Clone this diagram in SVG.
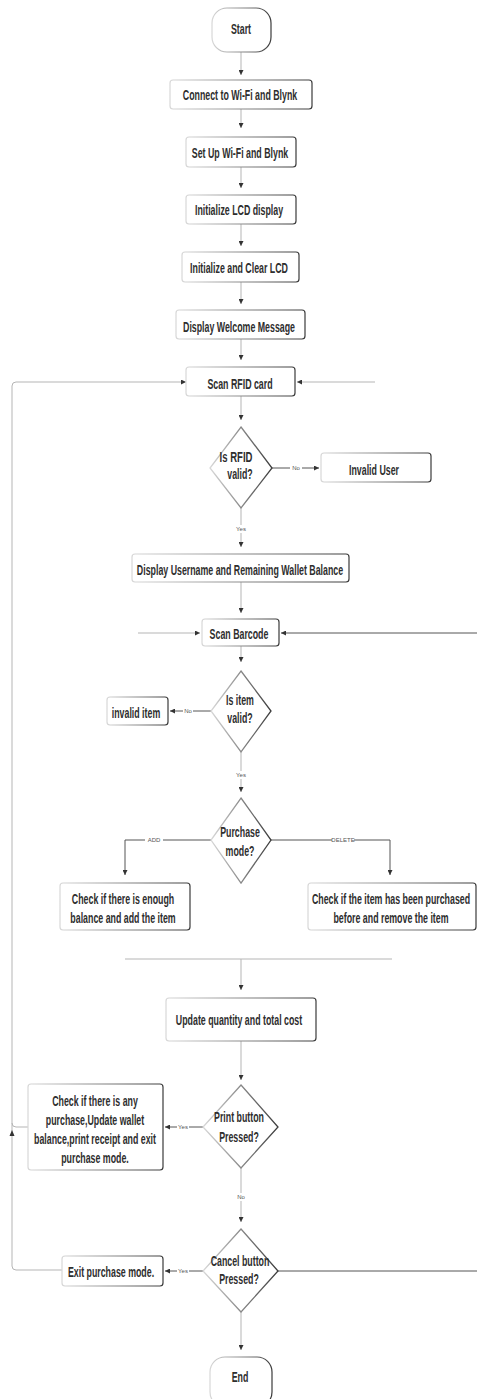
<svg xmlns="http://www.w3.org/2000/svg" width="477" height="1399" viewBox="0 0 477 1399">
<defs>
<linearGradient id="edge" x1="0" y1="0" x2="1" y2="0">
<stop offset="0" stop-color="#d8d8d8"/><stop offset="0.5" stop-color="#8a8a8a"/><stop offset="1" stop-color="#3a3a3a"/>
</linearGradient>
<marker id="ah" viewBox="0 0 6 6" refX="6" refY="3" markerWidth="5" markerHeight="5" markerUnits="userSpaceOnUse" orient="auto">
<path d="M0,0 L6,3 L0,6 z" fill="#333"/>
</marker>
<style>
.box{fill:#fff;stroke:url(#edge);stroke-width:1.2}
.dia{fill:#fff;stroke:url(#edge);stroke-width:1.3}
.t{font-family:"Liberation Sans",Arial,sans-serif;font-weight:bold;font-size:14px;fill:#2e2e2e;text-anchor:middle}
.lbl{font-family:"Liberation Sans",sans-serif;font-size:6px;fill:#555;text-anchor:middle}
.c{fill:none;stroke:#b5b5b5;stroke-width:1}
.cd{fill:none;stroke:#555;stroke-width:1}
</style>
</defs>
<rect width="477" height="1399" fill="#fff"/>
<g id="connectors">
<path class="c" d="M241,52 V75" marker-end="url(#ah)"/>
<path class="c" d="M241,109 V128" marker-end="url(#ah)"/>
<path class="c" d="M241,167 V188" marker-end="url(#ah)"/>
<path class="c" d="M241,224 V246" marker-end="url(#ah)"/>
<path class="c" d="M241,282 V304" marker-end="url(#ah)"/>
<path class="c" d="M241,339 V360" marker-end="url(#ah)"/>
<path class="c" d="M241,396 V420" marker-end="url(#ah)"/>
<path class="cd" d="M272,468 H290"/>
<path class="cd" d="M302,468 H319" marker-end="url(#ah)"/>
<text class="lbl" x="296" y="470">No</text>
<path class="c" d="M241,508 V525"/>
<path class="c" d="M241,533 V547" marker-end="url(#ah)"/>
<text class="lbl" x="241" y="531">Yes</text>
<path class="c" d="M241,582 V613" marker-end="url(#ah)"/>
<path class="c" d="M138,633 H200" marker-end="url(#ah)"/>
<path class="cd" d="M477,633 H281" marker-end="url(#ah)"/>
<path class="c" d="M62,1270 H16 Q12,1270 12,1266 V386 Q12,382 16,382 H186" marker-end="url(#ah)"/>
<path class="c" d="M28,1127 H16 Q12,1127 12,1123"/>
<path d="M12,1130 L9.5,1136 L14.5,1136 z" fill="#333"/>
<path class="c" d="M375,382 H297" marker-end="url(#ah)"/>
<path class="c" d="M241,646 V662" marker-end="url(#ah)"/>
<path class="cd" d="M211,711 H193"/>
<path class="cd" d="M183,711 H170" marker-end="url(#ah)"/>
<text class="lbl" x="188" y="713">No</text>
<path class="c" d="M241,752 V771"/>
<path class="c" d="M241,779 V792" marker-end="url(#ah)"/>
<text class="lbl" x="241" y="777">Yes</text>
<path class="cd" d="M211,840 H163"/>
<path class="cd" d="M145,840 H125 V875" marker-end="url(#ah)"/>
<text class="lbl" x="154" y="842">ADD</text>
<path class="cd" d="M271,840 H332"/>
<path class="cd" d="M354,840 H390 V875" marker-end="url(#ah)"/>
<text class="lbl" x="343" y="842">DELETE</text>
<path class="c" d="M125,959 H392"/>
<path class="c" d="M241,959 V990" marker-end="url(#ah)"/>
<path class="c" d="M241,1041 V1080" marker-end="url(#ah)"/>
<path class="cd" d="M203,1127 H189"/>
<path class="cd" d="M177,1127 H165" marker-end="url(#ah)"/>
<text class="lbl" x="183" y="1129">Yes</text>
<path class="c" d="M241,1168 V1193"/>
<path class="c" d="M241,1201 V1222" marker-end="url(#ah)"/>
<text class="lbl" x="241" y="1199">No</text>
<path class="cd" d="M203,1271 H189"/>
<path class="cd" d="M177,1271 H165" marker-end="url(#ah)"/>
<text class="lbl" x="183" y="1273">Yes</text>
<path class="cd" d="M278,1271 H477"/>
<path class="c" d="M241,1312 V1350" marker-end="url(#ah)"/>
</g>
<g id="start"><rect class="box" x="212" y="8" width="59" height="44" rx="15"/><text class="t" transform="translate(241,34) scale(0.63,1)">Start</text></g>
<g id="connect"><rect class="box" x="170" y="80" width="142" height="29" rx="3"/><text class="t" transform="translate(240,100) scale(0.63,1)">Connect to Wi-Fi and Blynk</text></g>
<g id="setup"><rect class="box" x="186" y="137" width="110" height="30" rx="3"/><text class="t" transform="translate(240,158) scale(0.63,1)">Set Up Wi-Fi and Blynk</text></g>
<g id="initlcd"><rect class="box" x="186" y="195" width="110" height="29" rx="3"/><text class="t" transform="translate(239,215) scale(0.63,1)">Initialize LCD display</text></g>
<g id="initclear"><rect class="box" x="182" y="252" width="117" height="30" rx="3"/><text class="t" transform="translate(239,273) scale(0.63,1)">Initialize and Clear LCD</text></g>
<g id="welcome"><rect class="box" x="176" y="310" width="129" height="29" rx="3"/><text class="t" transform="translate(239,332) scale(0.63,1)">Display Welcome Message</text></g>
<g id="scanrfid"><rect class="box" x="186" y="367" width="109" height="29" rx="3"/><text class="t" transform="translate(240,389) scale(0.63,1)">Scan RFID card</text></g>
<g id="rfidvalid"><polygon class="dia" points="241,427 272,468 241,508 210,468"/><text class="t" transform="translate(236,462) scale(0.68,1)">Is RFID</text><text class="t" transform="translate(240,479) scale(0.63,1)">valid?</text></g>
<g id="invaliduser"><rect class="box" x="321" y="453" width="110" height="29" rx="3"/><text class="t" transform="translate(374,475) scale(0.63,1)">Invalid User</text></g>
<g id="username"><rect class="box" x="132" y="554" width="217" height="28" rx="3"/><text class="t" transform="translate(240,575) scale(0.63,1)">Display Username and Remaining Wallet Balance</text></g>
<g id="scanbarcode"><rect class="box" x="202" y="619" width="77" height="27" rx="3"/><text class="t" transform="translate(239,639) scale(0.63,1)">Scan Barcode</text></g>
<g id="itemvalid"><polygon class="dia" points="241,671 271,711 241,752 211,711"/><text class="t" transform="translate(240,705) scale(0.63,1)">Is item</text><text class="t" transform="translate(240,723) scale(0.63,1)">valid?</text></g>
<g id="invaliditem"><rect class="box" x="107" y="697" width="61" height="28" rx="3"/><text class="t" transform="translate(136,718) scale(0.63,1)">invalid item</text></g>
<g id="purchasemode"><polygon class="dia" points="241,798 271,840 241,883 211,840"/><text class="t" transform="translate(240,837) scale(0.63,1)">Purchase</text><text class="t" transform="translate(240,856) scale(0.63,1)">mode?</text></g>
<g id="addcheck"><rect class="box" x="60" y="883" width="130" height="47" rx="3"/><text class="t" transform="translate(123,904) scale(0.63,1)">Check if there is enough</text><text class="t" transform="translate(123,923) scale(0.63,1)">balance and add the item</text></g>
<g id="deletecheck"><rect class="box" x="308" y="883" width="168" height="47" rx="3"/><text class="t" transform="translate(391,904) scale(0.63,1)">Check if the item has been purchased</text><text class="t" transform="translate(391,923) scale(0.63,1)">before and remove the item</text></g>
<g id="update"><rect class="box" x="166" y="998" width="150" height="43" rx="3"/><text class="t" transform="translate(239,1025) scale(0.63,1)">Update quantity and total cost</text></g>
<g id="print"><polygon class="dia" points="241,1085 278,1127 241,1168 203,1127"/><text class="t" transform="translate(239,1122) scale(0.63,1)">Print button</text><text class="t" transform="translate(239,1142) scale(0.63,1)">Pressed?</text></g>
<g id="checkany"><rect class="box" x="28" y="1084" width="135" height="86" rx="3"/><text class="t" transform="translate(95,1106) scale(0.63,1)">Check if there is any</text><text class="t" transform="translate(95,1125) scale(0.63,1)">purchase,Update wallet</text><text class="t" transform="translate(95,1144) scale(0.63,1)">balance,print receipt and exit</text><text class="t" transform="translate(95,1163) scale(0.63,1)">purchase mode.</text></g>
<g id="cancel"><polygon class="dia" points="241,1229 278,1271 241,1312 203,1271"/><text class="t" transform="translate(240,1266) scale(0.63,1)">Cancel button</text><text class="t" transform="translate(239,1284) scale(0.63,1)">Pressed?</text></g>
<g id="exit"><rect class="box" x="62" y="1256" width="101" height="30" rx="3"/><text class="t" transform="translate(111,1277) scale(0.63,1)">Exit purchase mode.</text></g>
<g id="end"><rect class="box" x="210" y="1357" width="62" height="50" rx="15"/><text class="t" transform="translate(240,1382) scale(0.63,1)">End</text></g>
</svg>
